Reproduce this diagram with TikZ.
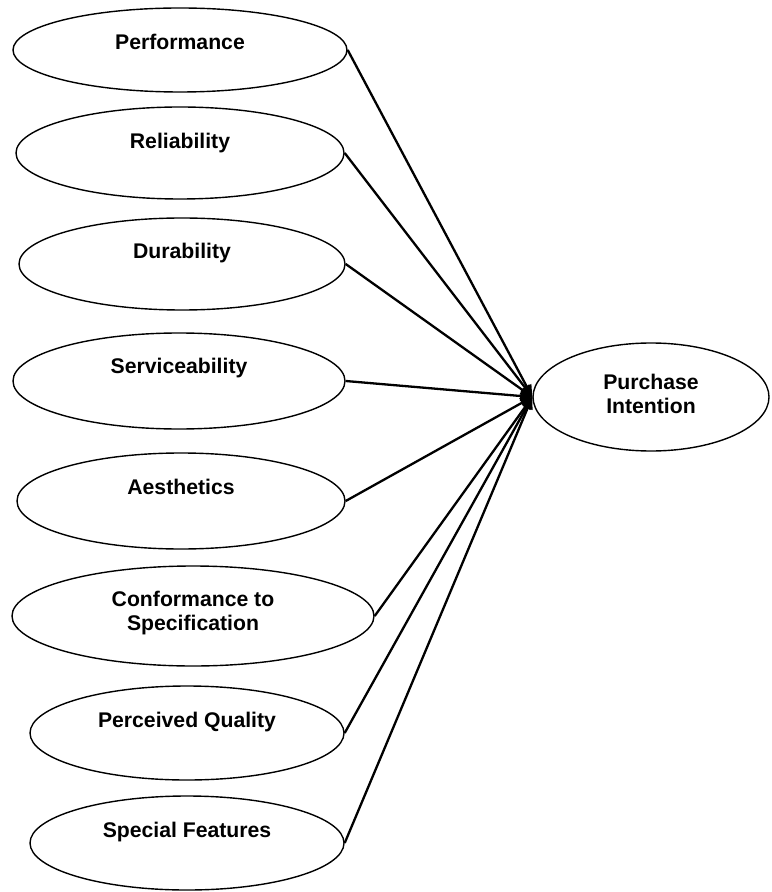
\documentclass[tikz,border=0pt]{standalone}
\usepackage{fontspec}
\setmainfont{Liberation Sans}
\usetikzlibrary{shapes.geometric, arrows.meta}

\begin{document}
\begin{tikzpicture}[x=0.5pt, y=-0.5pt,
    oval/.style={draw, ellipse, line width=0.7pt, inner sep=0pt},
    lbl/.style={font=\bfseries\fontsize{10.6}{12.2}\selectfont, align=center},
    link/.style={line width=1.15pt, -{Triangle[length=6pt,width=5pt]}}]
    \useasboundingbox (0,0) rectangle (771,892);
    % dimensions
    \node[oval, minimum width=167pt, minimum height=42pt] (perf) at (180,50) {};
    \node[lbl] (perf-t) at (180,42) {Performance};
    \node[oval, minimum width=164pt, minimum height=46pt] (reli) at (180,153) {};
    \node[lbl] (reli-t) at (180,143) {Reliability};
    \node[oval, minimum width=163pt, minimum height=46pt] (dura) at (182,264) {};
    \node[lbl] (dura-t) at (182,253) {Durability};
    \node[oval, minimum width=166pt, minimum height=48pt] (serv) at (179,381) {};
    \node[lbl] (serv-t) at (179,368) {Serviceability};
    \node[oval, minimum width=164pt, minimum height=48pt] (aest) at (181,501) {};
    \node[lbl] (aest-t) at (181,487) {Aesthetics};
    \node[oval, minimum width=181pt, minimum height=50pt] (conf) at (193,616) {};
    \node[lbl] (conf-t) at (193,613) {Conformance to\\Specification};
    \node[oval, minimum width=157pt, minimum height=47pt] (perc) at (187,733) {};
    \node[lbl] (perc-t) at (187,722) {Perceived Quality};
    \node[oval, minimum width=157pt, minimum height=47pt] (spec) at (187,843) {};
    \node[lbl] (spec-t) at (187,832) {Special Features};
    % outcome
    \node[oval, minimum width=118pt, minimum height=54pt] (purch) at (651,397) {};
    \node[lbl] (purch-t) at (651,394) {Purchase\\Intention};
    % paths
    \draw[link] (perf.east) -- (purch.west);
    \draw[link] (reli.east) -- (purch.west);
    \draw[link] (dura.east) -- (purch.west);
    \draw[link] (serv.east) -- (purch.west);
    \draw[link] (aest.east) -- (purch.west);
    \draw[link] (conf.east) -- (purch.west);
    \draw[link] (perc.east) -- (purch.west);
    \draw[link] (spec.east) -- (purch.west);
\end{tikzpicture}
\end{document}
